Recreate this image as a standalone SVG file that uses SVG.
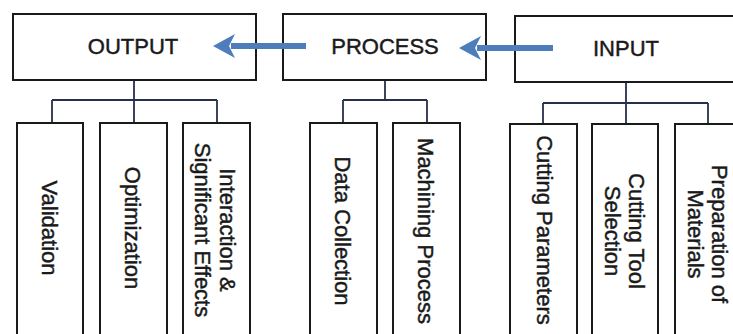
<svg xmlns="http://www.w3.org/2000/svg" width="733" height="334" viewBox="0 0 733 334">
<style>
.box{fill:#fff;stroke:#1a1a1a;stroke-width:2}
.t{font-family:"Liberation Sans",Arial,sans-serif;font-size:22px;fill:#1a1a1a;stroke:#1a1a1a;stroke-width:0.45;text-anchor:middle}
.c{fill:none;stroke:#26304a;stroke-width:1.8}
.arr{fill:none;stroke:#4d7dbb;stroke-width:6}
.head{fill:#4d7dbb}
</style>
<rect width="733" height="334" fill="#fff"/>
<g id="output"><rect class="box" x="13" y="14" width="243" height="66"/><text class="t" x="133" y="54">OUTPUT</text></g>
<g id="process"><rect class="box" x="283" y="14" width="203" height="66"/><text class="t" x="385" y="54">PROCESS</text></g>
<g id="input"><rect class="box" x="515" y="16" width="240" height="66"/><text class="t" x="626" y="56">INPUT</text></g>
<g id="validation"><rect class="box" x="17" y="123" width="66" height="230"/><text class="t" transform="translate(50 228) rotate(90)" dy="8">Validation</text></g>
<g id="optimization"><rect class="box" x="100" y="123" width="67" height="230"/><text class="t" transform="translate(133 228) rotate(90)" dy="8">Optimization</text></g>
<g id="interaction"><rect class="box" x="183" y="123" width="67" height="230"/><text class="t" transform="translate(216 230) rotate(90)"><tspan x="0" dy="-4">Interaction &amp;</tspan><tspan x="0" dy="25">Significant Effects</tspan></text></g>
<g id="datacollection"><rect class="box" x="310" y="123" width="67" height="230"/><text class="t" transform="translate(343 231) rotate(90)" dy="8">Data Collection</text></g>
<g id="machining"><rect class="box" x="393" y="123" width="67" height="230"/><text class="t" transform="translate(426 231) rotate(90)" dy="8">Machining Process</text></g>
<g id="cuttingparams"><rect class="box" x="510" y="124" width="67" height="230"/><text class="t" transform="translate(543 230) rotate(90)" dy="6">Cutting Parameters</text></g>
<g id="cuttingtool"><rect class="box" x="592" y="124" width="66" height="230"/><text class="t" transform="translate(625 231) rotate(90)"><tspan x="0" dy="-4">Cutting Tool</tspan><tspan x="0" dy="24">Selection</tspan></text></g>
<g id="preparation"><rect class="box" x="675" y="124" width="67" height="230"/><text class="t" transform="translate(708 234) rotate(90)"><tspan x="0" dy="-4">Preparation of</tspan><tspan x="0" dy="24">Materials</tspan></text></g>
<g id="connectors">
<path class="c" d="M134 81V100M52 100H217M52 100V122M134 100V122M217 100V122"/>
<path class="c" d="M385 81V100M343 100H427M343 100V122M427 100V122"/>
<path class="c" d="M626 83V103M543 103H708M543 103V123M626 103V123M708 103V123"/>
<path class="arr" d="M306 46H231"/>
<path class="head" d="M213 46 L235 34 L229 46 L235 58 Z"/>
<path class="arr" d="M553 48H477"/>
<path class="head" d="M459 48 L481 36 L475 48 L481 60 Z"/>
</g>
</svg>
